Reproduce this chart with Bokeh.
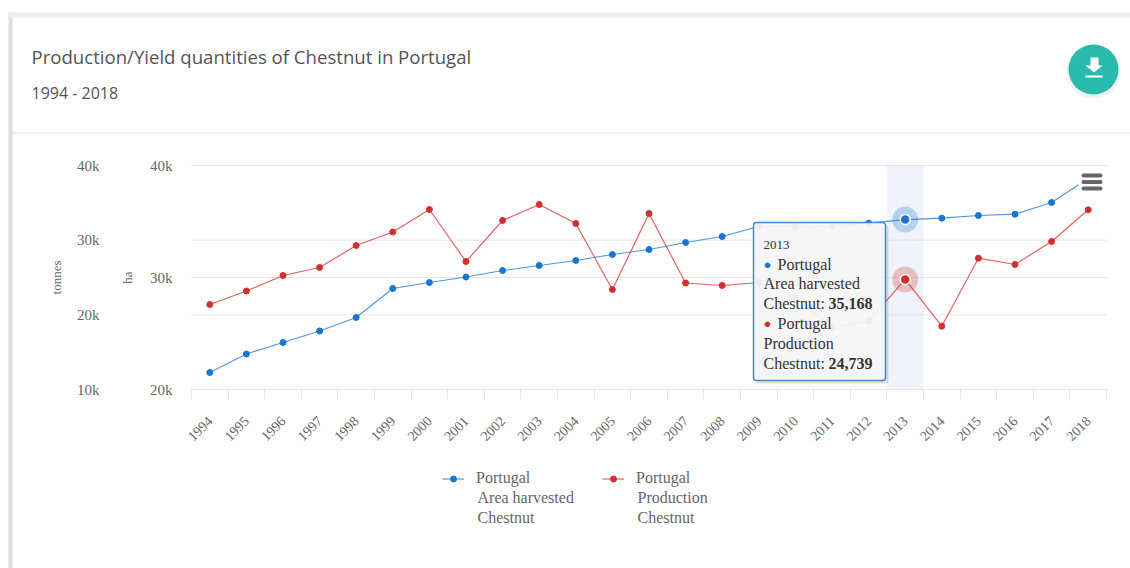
from bokeh.plotting import figure
from bokeh.embed import file_html
from bokeh.resources import INLINE
from bokeh.models import (Range1d, LinearAxis, FixedTicker, Label, BoxAnnotation, PolyAnnotation,
                          Legend, LegendItem, ColumnDataSource)
import math

years = [str(y) for y in range(1994, 2019)]
area_harvested = [21518, 23170, 24197, 25223, 26429, 29018, 29554, 30045, 30625, 31071, 31518, 32054, 32500,
                  33125, 33661, 34554, 34554, 34600, 34848, 35168, 35295, 35536, 35652, 36696, 38839]
production = [21384, 23192, 25268, 26339, 29286, 31094, 34107, 27143, 32634, 34777, 32232, 23393, 33571,
              24263, 23929, 24330, 22362, 18304, 19147, 24739, 18478, 27585, 26741, 29821, 34067]
tonnes_ticks = [10000, 20000, 30000, 40000]
ha_ticks = [20000, 30000, 40000]
tick_labels = {10000: "10k", 20000: "20k", 30000: "30k", 40000: "40k"}
hover_year = "2013"
series_a = ["Portugal", "Area harvested", "Chestnut"]
series_b = ["Portugal", "Production", "Chestnut"]

BLUE, RED = "#1976d2", "#d32f2f"
W, H = 1130, 568
PL, PT, PW, PH = 191, 165, 915, 224   # plot rectangle inside the canvas
idx = list(range(len(years)))
hi = years.index(hover_year)
n = len(years)
xmin, xmax = -0.5, n - 0.5

def extended(lo, hi_):
    per = (hi_ - lo) / PH
    return Range1d(lo - (H - PT - PH) * per, hi_ + PT * per)

xper = (xmax - xmin) / PW
p = figure(width=W, height=H, output_backend="svg", toolbar_location=None,
           x_range=Range1d(xmin - PL * xper, xmax + (W - PL - PW) * xper),
           y_range=extended(tonnes_ticks[0], tonnes_ticks[-1]),
           x_axis_type=None, y_axis_type=None, frame_width=W, frame_height=H,
           min_border_left=0, min_border_right=0, min_border_top=0, min_border_bottom=0,
           outline_line_color=None, background_fill_color="white", border_fill_color=None)
p.extra_y_ranges = {"ha": extended(ha_ticks[0], ha_ticks[-1])}
p.grid.visible = False

def style_y(ax, ticks, label, standoff, lab_standoff):
    ax.ticker = FixedTicker(ticks=list(ticks))
    ax.bounds = (ticks[0], ticks[-1])
    ax.major_label_overrides = tick_labels
    ax.axis_line_color = None
    ax.major_tick_line_color = None
    ax.minor_tick_line_color = None
    ax.major_label_standoff = standoff
    ax.major_label_text_font = "Liberation Serif"
    ax.major_label_text_font_size = "15px"
    ax.major_label_text_color = "#666666"
    ax.axis_label = label
    ax.axis_label_text_font = "Liberation Serif"
    ax.axis_label_text_font_size = "13px"
    ax.axis_label_text_font_style = "normal"
    ax.axis_label_text_color = "#666666"
    ax.axis_label_standoff = lab_standoff

a_ha = LinearAxis(y_range_name="ha", fixed_location=xmin)
style_y(a_ha, ha_ticks, "ha", 19, 12)
a_ha.major_label_standoff = 13
p.add_layout(a_ha, "left")
a_t = LinearAxis(fixed_location=xmin)
style_y(a_t, tonnes_ticks, "tonnes", 86, 10)
p.add_layout(a_t, "left")

xa = LinearAxis(ticker=FixedTicker(ticks=idx, minor_ticks=[i - 0.5 for i in range(n + 1)]),
                major_label_overrides={i: y for i, y in enumerate(years)},
                fixed_location=tonnes_ticks[0], bounds=(xmin, xmax))
xa.axis_line_color = "#e6e6e6"
xa.major_tick_line_color = None
xa.minor_tick_line_color = "#e6e6e6"
xa.minor_tick_out = 10
xa.minor_tick_in = 0
xa.major_label_orientation = math.pi / 4
xa.major_label_standoff = 19
xa.major_label_text_font = "Liberation Serif"
xa.major_label_text_font_size = "14px"
xa.major_label_text_color = "#666666"
p.add_layout(xa, "below")

p.segment(xmin, tonnes_ticks, xmax, tonnes_ticks, line_color="#e6e6e6", line_width=1, level="underlay")
p.segment(xmin, ha_ticks, xmax, ha_ticks, y_range_name="ha", line_color="#e6e6e6", line_width=1, level="underlay")

p.add_layout(BoxAnnotation(left=hi - 0.5, right=hi + 0.5, top=tonnes_ticks[-1], bottom=tonnes_ticks[0],
                           fill_color="#ccd6eb", fill_alpha=0.3, line_color=None, level="underlay"))

src = ColumnDataSource(dict(x=idx, a=area_harvested, b=production))
la = p.line("x", "a", source=src, y_range_name="ha", line_color=BLUE, line_alpha=0.75, line_width=1.2)
ma = p.scatter("x", "a", source=src, y_range_name="ha", size=6, color=BLUE)
lb = p.line("x", "b", source=src, line_color=RED, line_alpha=0.75, line_width=1.2)
mb = p.scatter("x", "b", source=src, size=6, color=RED)

p.scatter([hi], [area_harvested[hi]], y_range_name="ha", size=26, color=BLUE, alpha=0.27, line_color=None)
p.scatter([hi], [area_harvested[hi]], y_range_name="ha", size=10, fill_color=BLUE, line_color="white", line_width=1.5)
p.scatter([hi], [production[hi]], size=26, color=RED, alpha=0.27, line_color=None)
p.scatter([hi], [production[hi]], size=10, fill_color=RED, line_color="white", line_width=1.5)

def legend(label, rends, x):
    p.add_layout(Legend(items=[LegendItem(label=label, renderers=rends)], location=(x, 81),
                        border_line_color=None, background_fill_alpha=0, margin=0,
                        label_text_font="Liberation Serif", label_text_font_size="16px",
                        label_text_color="#666666", glyph_width=22, glyph_height=15, label_standoff=12), "center")
legend(series_a[0], [la, ma], 442)
legend(series_b[0], [lb, mb], 602)

def box(x0, y0, x1, y1, color, alpha=1.0, radius=0, line=None, lw=1):
    p.add_layout(BoxAnnotation(left=x0, right=x1, top=y0, bottom=y1,
                               left_units="canvas", right_units="canvas", top_units="canvas", bottom_units="canvas",
                               fill_color=color, fill_alpha=alpha, line_color=line, line_alpha=1, line_width=lw,
                               border_radius=radius))

def text(x, y, s, size="16px", color="#333333", font="Liberation Serif", style="normal", baseline="middle"):
    p.add_layout(Label(x=x, y=H - y, x_units="screen", y_units="screen", text=s, text_font=font,
                       text_font_size=size, text_color=color, text_font_style=style, text_baseline=baseline))

for i in (1, 2):
    text(477, 477 + 20 * i, series_a[i], color="#666666")
    text(637, 477 + 20 * i, series_b[i], color="#666666")

box(8, 12, 12, 568, "#dddddd")
box(8, 12, 1130, 17, "#eeeeee")
box(12, 132, 1130, 133, "#e3e3e3")
text(31, 56, "Production/Yield quantities of Chestnut in Portugal", "18.6px", "#555555", "Open Sans")
text(31, 92, "1994 - 2018", "16px", "#555555", "Open Sans")
box(756, 225, 888, 383, "#000000", 0.12, 3)
box(753, 222, 885, 380, "#f7f7f7", 0.93, 3, "#3f88d6", 1.5)
text(763, 244, hover_year, "13px")
text(763, 264, "●", "13px", BLUE)
text(777, 264, series_a[0])
text(763, 283, series_a[1])
text(763, 303, series_a[2] + ": ")
text(828, 303, f"{area_harvested[hi]:,}", style="bold")
text(763, 323, "●", "13px", RED)
text(777, 323, series_b[0])
text(763, 343, series_b[1])
text(763, 363, series_b[2] + ": ")
text(828, 363, f"{production[hi]:,}", style="bold")
box(1078, 168, 1106, 195, "white")
for y in (173, 179.5, 186):
    box(1081, y, 1102, y + 4, "#666666", 1, 2)
box(1066, 44, 1120, 98, "#000000", 0.05, 27)
box(1068, 44, 1118, 94, "#2bbbad", 1, 25)
p.add_layout(PolyAnnotation(xs=[1090, 1098, 1098, 1102, 1093.5, 1085, 1090],
                            ys=[57, 57, 65, 65, 72, 65, 65],
                            xs_units="canvas", ys_units="canvas", fill_color="white", fill_alpha=1, line_color=None))
box(1085, 75, 1102, 77, "white")

open("out.html", "w").write(file_html(p, INLINE))
